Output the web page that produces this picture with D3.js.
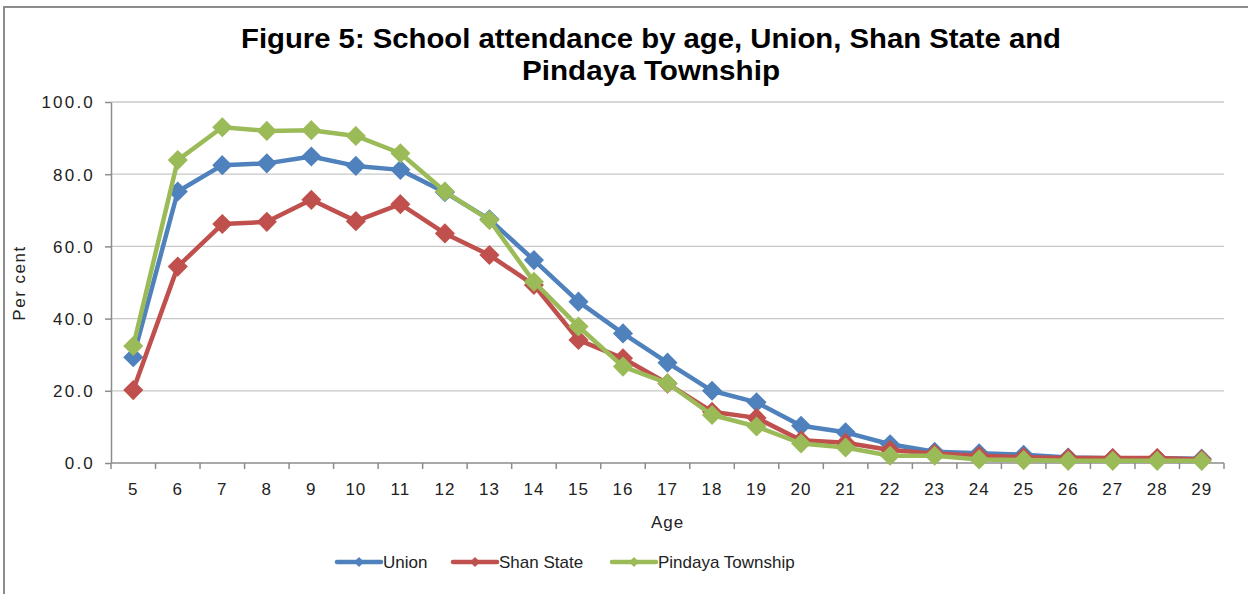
<!DOCTYPE html>
<html>
<head>
<meta charset="utf-8">
<script src="https://cdn.jsdelivr.net/npm/d3@7"></script>
<style>
  html, body { margin: 0; padding: 0; background: #fff; }
  svg { display: block; font-family: "Liberation Sans", Arial, sans-serif; }
</style>
</head>
<body>
<svg id="chart" width="1248" height="594"></svg>
<script>
const ages = [5,6,7,8,9,10,11,12,13,14,15,16,17,18,19,20,21,22,23,24,25,26,27,28,29];
const union   = [29.3,75.2,82.5,83.0,84.9,82.3,81.2,75.0,67.5,56.2,44.7,35.9,27.8,20.0,16.8,10.3,8.5,5.2,3.1,2.7,2.3,1.5,1.3,1.3,1.2];
const shan    = [20.2,54.4,66.2,66.8,72.9,67.0,71.7,63.6,57.6,49.3,34.1,29.0,22.0,14.2,12.5,6.3,5.6,3.6,2.6,2.0,1.6,1.4,1.4,1.4,1.0];
const pindaya = [32.4,83.9,93.0,92.0,92.2,90.6,85.8,75.2,67.3,50.2,37.8,26.7,22.1,13.3,10.1,5.4,4.3,2.0,2.0,1.0,0.8,0.6,0.6,0.6,0.6];
const seriesNames = ["Union","Shan State","Pindaya Township"];
const seriesColors = ["#4F81BD","#C0504D","#9BBB59"];
const yTicks = [0,20,40,60,80,100];
const titleLines = ["Figure 5: School attendance by age, Union, Shan State and","Pindaya Township"];

const series = [union, shan, pindaya].map((vals,i)=>({name:seriesNames[i], color:seriesColors[i], values: vals.map((v,j)=>({age:ages[j], v}))}));

const svg = d3.select("#chart");
const L = 111, R = 1224, T = 102, B = 463;

// outer frame
svg.append("rect").attr("x",4).attr("y",7).attr("width",1260).attr("height",620)
  .attr("fill","none").attr("stroke","#8c8c8c").attr("stroke-width",2);

const x = d3.scaleBand().domain(ages).range([L,R]).padding(0);
const y = d3.scaleLinear().domain([0,100]).range([B,T]);

// gridlines
svg.append("g").selectAll("line").data(yTicks.filter(t=>t>0)).join("line")
  .attr("x1",L).attr("x2",R).attr("y1",d=>y(d)).attr("y2",d=>y(d))
  .attr("stroke","#c8c8c8").attr("stroke-width",1.3);

// y axis
const yAxis = d3.axisLeft(y).tickValues(yTicks).tickFormat(d3.format(".1f")).tickSizeInner(6).tickSizeOuter(0).tickPadding(10);
const gy = svg.append("g").attr("transform",`translate(${L},0)`).call(yAxis);
gy.select(".domain").attr("stroke","#8c8c8c").attr("stroke-width",1.5);
gy.selectAll(".tick line").attr("stroke","#8c8c8c").attr("stroke-width",1.5);
gy.selectAll(".tick text").attr("font-size",17).attr("fill","#222").attr("letter-spacing","2.2px")
  .attr("font-family","Liberation Sans, Arial, sans-serif").attr("dy","0.35em");

// x axis
const xAxis = d3.axisBottom(x).tickSize(0).tickPadding(20);
const gx = svg.append("g").attr("transform",`translate(0,${B})`).call(xAxis);
gx.select(".domain").remove();
gx.append("line").attr("x1",L).attr("x2",R).attr("y1",0).attr("y2",0).attr("stroke","#8c8c8c").attr("stroke-width",1.5);
const boundaries = ages.map(a=>x(a)).concat([x(ages[ages.length-1])+x.bandwidth()]);
gx.selectAll("line.bt").data(boundaries).join("line").attr("class","bt")
  .attr("x1",d=>d).attr("x2",d=>d).attr("y1",0).attr("y2",6).attr("stroke","#8c8c8c").attr("stroke-width",1.5);
gx.selectAll(".tick text").attr("font-size",17).attr("fill","#222").attr("letter-spacing","1px")
  .attr("font-family","Liberation Sans, Arial, sans-serif");

// axis titles
svg.append("text").attr("x",(L+R)/2).attr("y",528).attr("text-anchor","middle")
  .attr("font-size",17).attr("fill","#222").attr("letter-spacing","1px").text("Age");
svg.append("text").attr("transform","translate(25,283) rotate(-90)").attr("text-anchor","middle")
  .attr("font-size",17).attr("fill","#222").attr("letter-spacing","1.5px").text("Per cent");

// title
const titleWidths = [820, 258];
titleLines.forEach((t,i)=>{
  svg.append("text").attr("x",651).attr("y",48+i*32).attr("text-anchor","middle")
    .attr("font-size",28).attr("font-weight","bold").attr("fill","#000")
    .attr("textLength",titleWidths[i]).attr("lengthAdjust","spacingAndGlyphs").text(t);
});

// lines and markers
const line = d3.line().x(d=>x(d.age)+x.bandwidth()/2).y(d=>y(d.v));
const diamond = h => `M0,${-h}L${h},0L0,${h}L${-h},0Z`;
series.forEach(s=>{
  const g = svg.append("g");
  g.append("path").datum(s.values).attr("d",line).attr("fill","none")
    .attr("stroke",s.color).attr("stroke-width",4.5).attr("stroke-linejoin","round");
  g.selectAll("path.m").data(s.values).join("path").attr("class","m")
    .attr("transform",d=>`translate(${x(d.age)+x.bandwidth()/2},${y(d.v)})`)
    .attr("d",diamond(9)).attr("fill",s.color).attr("stroke",s.color).attr("stroke-width",1.5);
});

// legend
const legX = [337, 453, 612];
series.forEach((s,i)=>{
  const g = svg.append("g").attr("transform",`translate(${legX[i]},562)`);
  g.append("line").attr("x1",0).attr("x2",44).attr("y1",0).attr("y2",0)
    .attr("stroke",s.color).attr("stroke-width",4.5).attr("stroke-linecap","round");
  g.append("path").attr("transform","translate(22,0)").attr("d",diamond(5)).attr("fill",s.color);
  g.append("text").attr("x",46).attr("y",0).attr("dy","0.35em").attr("font-size",17)
    .attr("fill","#222").text(s.name);
});
</script>
</body>
</html>
